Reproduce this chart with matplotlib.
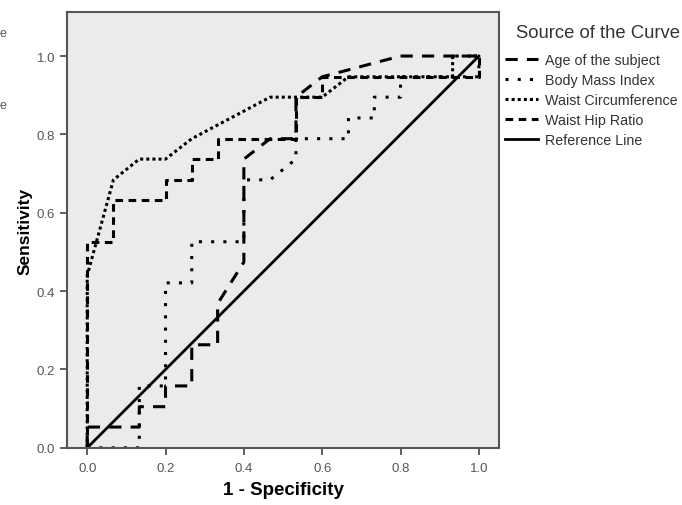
import matplotlib
matplotlib.use("Agg")
import matplotlib.pyplot as plt

plt.rcParams["font.family"] = ["Liberation Sans", "DejaVu Sans"]

# ROC curve points (x = 1 - specificity, y = sensitivity)
age_x = [0, 0, 0.133, 0.133, 0.2, 0.2, 0.267, 0.267, 0.333, 0.333, 0.4, 0.4,
         0.467, 0.533, 0.533, 0.6, 0.8, 1.0]
age_y = [0, 0.053, 0.053, 0.105, 0.105, 0.158, 0.158, 0.263, 0.263, 0.368, 0.474, 0.737,
         0.789, 0.789, 0.895, 0.947, 1.0, 1.0]

bmi_x = [0, 0.133, 0.133, 0.2, 0.2, 0.267, 0.267, 0.4, 0.4, 0.467, 0.533, 0.533,
         0.667, 0.667, 0.733, 0.733, 0.8, 0.8, 1.0, 1.0]
bmi_y = [0, 0, 0.158, 0.158, 0.421, 0.421, 0.526, 0.526, 0.684, 0.684, 0.737, 0.789,
         0.789, 0.842, 0.842, 0.895, 0.895, 0.947, 0.947, 1.0]

wc_x = [0, 0, 0.067, 0.133, 0.2, 0.267, 0.467, 0.6, 0.667, 0.933, 0.933, 1.0]
wc_y = [0, 0.44, 0.684, 0.737, 0.737, 0.789, 0.895, 0.895, 0.947, 0.947, 1.0, 1.0]

whr_x = [0, 0, 0.067, 0.067, 0.2, 0.2, 0.267, 0.267, 0.333, 0.333, 0.533, 0.533,
         0.6, 0.6, 1.0, 1.0]
whr_y = [0, 0.526, 0.526, 0.632, 0.632, 0.684, 0.684, 0.737, 0.737, 0.789, 0.789, 0.895,
         0.895, 0.947, 0.947, 1.0]

ref_x = [0, 1]
ref_y = [0, 1]

ticks = [0.0, 0.2, 0.4, 0.6, 0.8, 1.0]

fig = plt.figure(figsize=(6.82, 5.06), dpi=100)
ax = fig.add_axes([0.098, 0.113, 0.634, 0.861])
ax.set_facecolor("#ebebeb")

ax.plot(age_x, age_y, color="black", lw=2.2, ls=(0, (4, 3)), label="Age of the subject")
ax.plot(bmi_x, bmi_y, color="black", lw=2.2, ls=(0, (1, 3)), label="Body Mass Index")
ax.plot(wc_x, wc_y, color="black", lw=2.2, ls=(0, (1, 1)), label="Waist Circumference")
ax.plot(whr_x, whr_y, color="black", lw=2.2, ls=(0, (2.5, 1.8)), label="Waist Hip Ratio")
ax.plot(ref_x, ref_y, color="black", lw=2.0, label="Reference Line")

ax.set_xlim(-0.052, 1.052)
ax.set_ylim(0, 1.112)
ax.set_xticks(ticks)
ax.set_yticks(ticks)
ax.set_xticklabels([f"{t:.1f}" for t in ticks])
ax.set_yticklabels([f"{t:.1f}" for t in ticks])
ax.tick_params(direction="out", length=5, width=1.2, color="#444444",
               labelsize=9.5, labelcolor="#555555")
ax.tick_params(axis="x", pad=5)
for s in ax.spines.values():
    s.set_color("#555555")
    s.set_linewidth(1.5)
    s.set_zorder(3)

ax.set_xlabel("1 - Specificity", fontsize=13.5, fontweight="bold", labelpad=5)
ax.set_ylabel("Sensitivity", fontsize=12.5, fontweight="bold", labelpad=3)

fig.text(516 / 682, 1 - 33 / 506, "Source of the Curve", fontsize=13.3,
         color="#333333", ha="left", va="center")
leg = fig.legend(loc="upper left", bbox_to_anchor=(0.740, 0.893), frameon=False,
                 fontsize=10.3, handlelength=2.3, handletextpad=0.55,
                 labelspacing=0.42, borderaxespad=0, borderpad=0)
for t in leg.get_texts():
    t.set_color("#333333")

# fragments of text cut off at the left edge in the source
fig.text(0.0, 0.933, "e", fontsize=9, color="#555555", va="center")
fig.text(0.0, 0.79, "e", fontsize=9, color="#555555", va="center")

fig.savefig("out.png", dpi=100)
